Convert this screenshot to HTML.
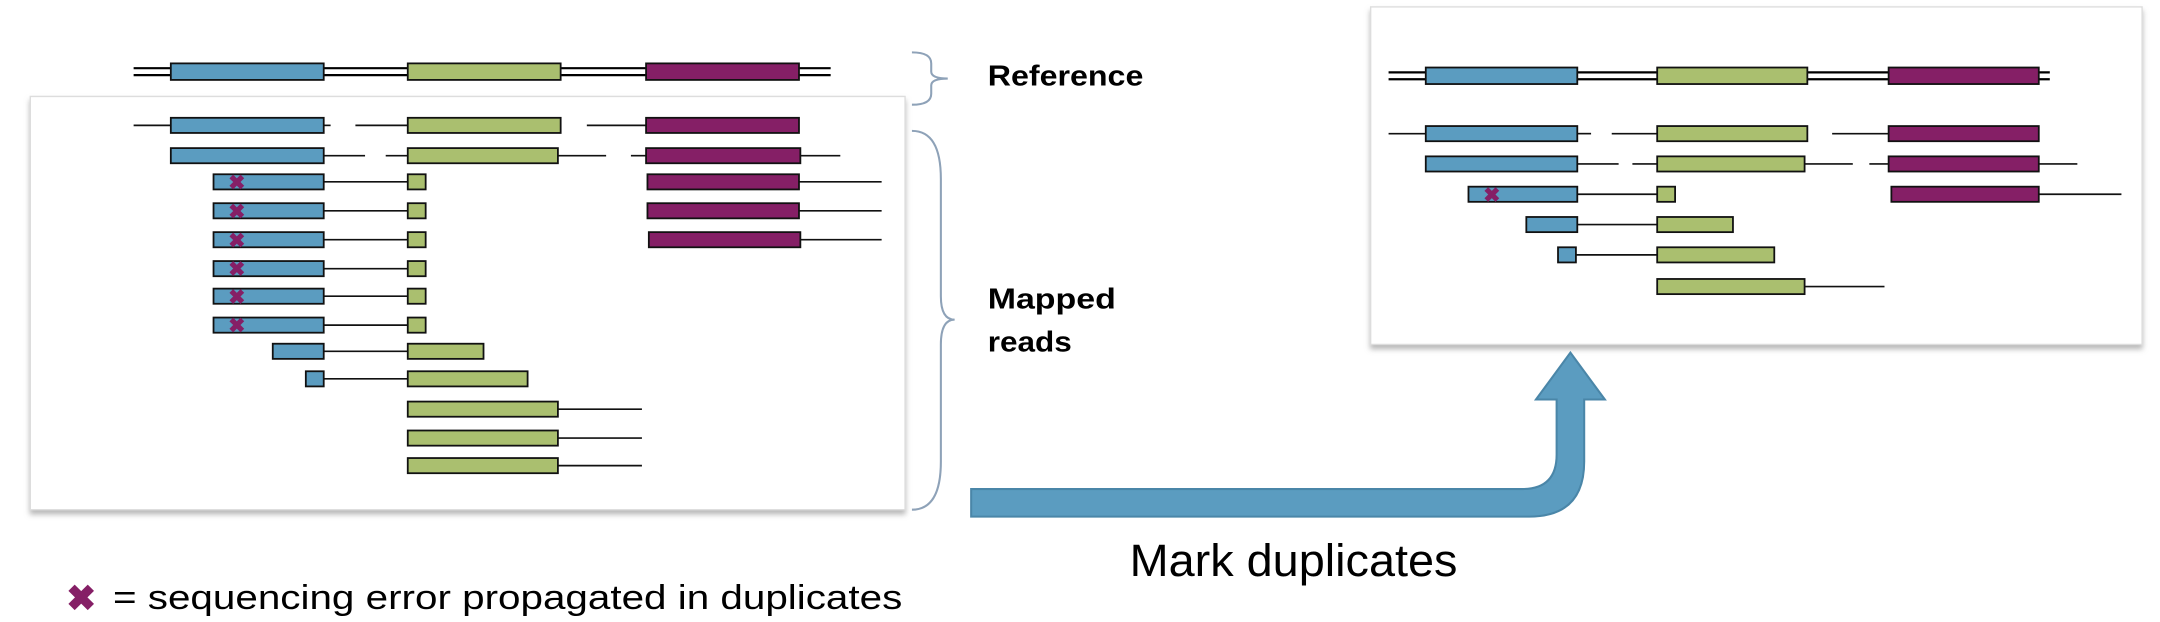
<!DOCTYPE html>
<html><head><meta charset="utf-8"><style>
html,body{margin:0;padding:0;background:#fff;width:2160px;height:622px;overflow:hidden}
svg{display:block}
text{font-family:"Liberation Sans",sans-serif}
</style></head><body>
<svg id="s" width="2160" height="622" viewBox="0 0 1568 451.5" xmlns="http://www.w3.org/2000/svg">
<defs>
<filter id="sh" x="-5%" y="-5%" width="110%" height="115%"><feDropShadow dx="0" dy="3" stdDeviation="2" flood-color="#888" flood-opacity="0.6"/></filter>
</defs>
<rect x="22" y="70" width="635" height="300" fill="#fff" stroke="#ddd" stroke-width="1" filter="url(#sh)"/>
<rect x="995" y="5" width="560" height="245" fill="#fff" stroke="#ddd" stroke-width="1" filter="url(#sh)"/>
<g id="marks"></g>
<path d="M662,38 Q676,38 676,46 L676,52 Q676,57 688,57 Q676,57 676,62 L676,68 Q676,76 662,76" fill="none" stroke="#8ea2b8" stroke-width="1.5"/>
<path d="M662,95 Q683,95 683,130 L683,215 Q683,232 693,232 Q683,232 683,250 L683,335 Q683,370 662,370" fill="none" stroke="#8ea2b8" stroke-width="1.5"/>
<text x="717" y="62" font-size="21" font-weight="bold" textLength="113" lengthAdjust="spacingAndGlyphs">Reference</text>
<text x="717" y="224" font-size="21" font-weight="bold" textLength="93" lengthAdjust="spacingAndGlyphs">Mapped</text>
<text x="717" y="255" font-size="21" font-weight="bold" textLength="61" lengthAdjust="spacingAndGlyphs">reads</text>
<path d="M705,355 L1105,355 Q1130,355 1130,330 L1130,290 L1115,290 L1140,256 L1165,290 L1150,290 L1150,335 Q1150,375 1110,375 L705,375 Z" fill="#5b9cc0" stroke="#4a86a8" stroke-width="1.5"/>
<text x="820" y="418" font-size="33" textLength="238" lengthAdjust="spacingAndGlyphs">Mark duplicates</text>
<text x="48" y="443" font-size="26" font-weight="bold" fill="#851f66">✖</text>
<text x="82" y="442" font-size="25" textLength="573" lengthAdjust="spacingAndGlyphs">= sequencing error propagated in duplicates</text>
</svg>
<script>
// reference exons [start,end]
const refExons=[[124,235],[296,407],[469,580]];
const refExonsR=[[1035,1145],[1203,1312],[1371,1480]];
// reads: [segType, x1, x2] ; segType: b=blue,g=green,p=purple,l=line,x=error
const leftRows=[91,113,132,153,174,195,215,236,255,275,297,318,338];
const leftReads=[
 [['l',97,124],['b',124,235],['l',235,240],['l',258,296],['g',296,407],['l',426,469],['p',469,580]],
 [['b',124,235],['l',235,265],['l',280,296],['g',296,405],['l',405,440],['l',458,469],['p',469,581],['l',581,610]],
 [['b',155,235],['x',172,0],['l',235,296],['g',296,309],['p',470,580],['l',580,640]],
 [['b',155,235],['x',172,0],['l',235,296],['g',296,309],['p',470,580],['l',580,640]],
 [['b',155,235],['x',172,0],['l',235,296],['g',296,309],['p',471,581],['l',581,640]],
 [['b',155,235],['x',172,0],['l',235,296],['g',296,309]],
 [['b',155,235],['x',172,0],['l',235,296],['g',296,309]],
 [['b',155,235],['x',172,0],['l',235,296],['g',296,309]],
 [['b',198,235],['l',235,296],['g',296,351]],
 [['b',222,235],['l',235,296],['g',296,383]],
 [['g',296,405],['l',405,466]],
 [['g',296,405],['l',405,466]],
 [['g',296,405],['l',405,466]]
];
const rightRows=[97,119,141,163,185,208];
const rightReads=[
 [['l',1008,1035],['b',1035,1145],['l',1145,1155],['l',1170,1203],['g',1203,1312],['l',1330,1371],['p',1371,1480]],
 [['b',1035,1145],['l',1145,1175],['l',1185,1203],['g',1203,1310],['l',1310,1345],['l',1357,1371],['p',1371,1480],['l',1480,1508]],
 [['b',1066,1145],['x',1083,0],['l',1145,1203],['g',1203,1216],['p',1373,1480],['l',1480,1540]],
 [['b',1108,1145],['l',1145,1203],['g',1203,1258]],
 [['b',1131,1144],['l',1144,1203],['g',1203,1288]],
 [['g',1203,1310],['l',1310,1368]]
];
const col={b:'#5b9cc0',g:'#aabf6f',p:'#851f66'};
const NS='http://www.w3.org/2000/svg';
const g=document.getElementById('marks');
function mk(t,a){const e=document.createElementNS(NS,t);for(const k in a)e.setAttribute(k,a[k]);g.appendChild(e);return e;}
function ref(y,ex,x0,x1,name){
 const l1=mk('line',{x1:x0,x2:x1,y1:y-2.5,y2:y-2.5,stroke:'#000','stroke-width':1.6});
 
 
 const l2=mk('line',{x1:x0,x2:x1,y1:y+2.5,y2:y+2.5,stroke:'#000','stroke-width':1.6});
 
 
 ex.forEach((e,i)=>{const r=mk('rect',{x:e[0],y:y-6,width:e[1]-e[0],height:12,fill:col['bgp'[i]],stroke:'#111','stroke-width':1.3});
 
 });
}
ref(52,refExons,97,603,'reference');
ref(55,refExonsR,1008,1488,'dedup-reference');
function reads(rows,data,name){
 data.forEach((segs,i)=>{const y=rows[i];
  segs.filter(s=>s[0]==='l').forEach(s=>{const e=mk('line',{x1:s[1],x2:s[2],y1:y,y2:y,stroke:'#111','stroke-width':1.2});
   
   });
  segs.filter(s=>'bgp'.includes(s[0])).forEach(s=>{const e=mk('rect',{x:s[1],y:y-5.5,width:s[2]-s[1],height:11,fill:col[s[0]],stroke:'#111','stroke-width':1.3});
   
   });
  segs.filter(s=>s[0]==='x').forEach(s=>{const e=mk('text',{x:s[1],y:y+5.5,'font-size':15,'font-weight':'bold','text-anchor':'middle',fill:'#851f66'});
   e.textContent='✖';
   
   });
 });
}
reads(leftRows,leftReads,'mapped-read');
reads(rightRows,rightReads,'dedup-read');
</script>
</body></html>
